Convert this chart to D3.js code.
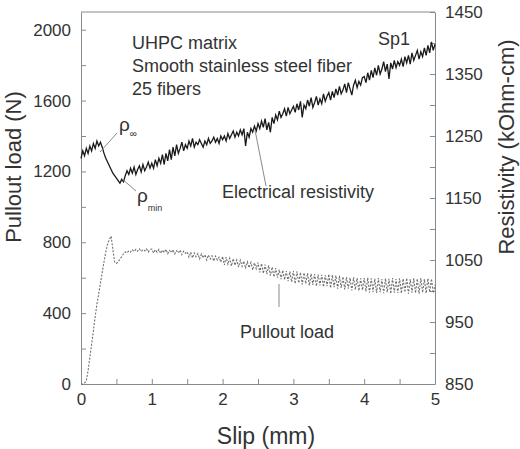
<!DOCTYPE html>
<html>
<head>
<meta charset="utf-8">
<script src="https://cdn.jsdelivr.net/npm/d3@7"></script>
<style>
  body { margin: 0; background: #fff; }
  svg text { font-family: "Liberation Sans", Arial, sans-serif; fill: #333; }
</style>
</head>
<body>
<svg id="chart" width="520" height="449"></svg>
<script>
// slip positions (mm), shared by both traces
const slipPts = [
  0,0.025,0.05,0.075,0.1,0.125,0.15,0.175,0.2,0.225,0.25,0.275,0.3,0.325,0.35,0.375,0.4,0.425,0.45,0.475,
  0.5,0.525,0.55,0.575,0.6,0.625,0.65,0.675,0.7,0.725,0.75,0.775,0.8,0.825,0.85,0.875,0.9,0.925,0.95,0.975,
  1,1.025,1.05,1.075,1.1,1.125,1.15,1.175,1.2,1.225,1.25,1.275,1.3,1.325,1.35,1.375,1.4,1.425,1.45,1.475,
  1.5,1.525,1.55,1.575,1.6,1.625,1.65,1.675,1.7,1.725,1.75,1.775,1.8,1.825,1.85,1.875,1.9,1.925,1.95,1.975,
  2,2.025,2.05,2.075,2.1,2.125,2.15,2.175,2.2,2.225,2.25,2.275,2.3,2.325,2.35,2.375,2.4,2.425,2.45,2.475,
  2.5,2.525,2.55,2.575,2.6,2.625,2.65,2.675,2.7,2.725,2.75,2.775,2.8,2.825,2.85,2.875,2.9,2.925,2.95,2.975,
  3,3.025,3.05,3.075,3.1,3.125,3.15,3.175,3.2,3.225,3.25,3.275,3.3,3.325,3.35,3.375,3.4,3.425,3.45,3.475,
  3.5,3.525,3.55,3.575,3.6,3.625,3.65,3.675,3.7,3.725,3.75,3.775,3.8,3.825,3.85,3.875,3.9,3.925,3.95,3.975,
  4,4.025,4.05,4.075,4.1,4.125,4.15,4.175,4.2,4.225,4.25,4.275,4.3,4.325,4.35,4.375,4.4,4.425,4.45,4.475,
  4.5,4.525,4.55,4.575,4.6,4.625,4.65,4.675,4.7,4.725,4.75,4.775,4.8,4.825,4.85,4.875,4.9,4.925,4.95,4.975,
  5
]

// electrical resistivity (kOhm-cm), right axis
const resistivity = [
  1214,1226,1218,1230,1222,1234,1226,1238,1230,1242,1234,1240,1232,1222,1214,1208,1202,1196,1190,1186,
  1182,1178,1174,1180,1176,1186,1194,1188,1198,1190,1200,1188,1196,1202,1192,1204,1194,1200,1208,1198,
  1206,1198,1212,1202,1214,1206,1220,1204,1222,1210,1228,1212,1232,1218,1236,1222,1230,1240,1226,1236,
  1230,1242,1234,1246,1232,1240,1236,1244,1238,1232,1242,1236,1246,1238,1242,1248,1240,1246,1238,1250,
  1244,1250,1242,1254,1246,1252,1258,1248,1256,1250,1260,1252,1262,1234,1256,1248,1262,1256,1266,1258,
  1270,1262,1274,1264,1278,1260,1272,1256,1280,1270,1284,1276,1290,1280,1286,1294,1282,1296,1286,1292,
  1298,1288,1302,1292,1306,1280,1300,1294,1308,1298,1312,1296,1304,1314,1300,1310,1302,1318,1306,1314,
  1320,1308,1322,1312,1326,1316,1330,1318,1324,1334,1320,1336,1326,1316,1332,1340,1328,1338,1332,1344,
  1346,1336,1352,1340,1356,1344,1360,1348,1364,1350,1358,1370,1354,1366,1342,1368,1358,1372,1360,1370,
  1364,1374,1362,1378,1368,1380,1366,1384,1372,1380,1388,1374,1386,1378,1392,1380,1396,1384,1402,1388,
  1398
]

// pullout load (N), left axis
const pullout = [
  0,0,5,20,75,150,225,300,380,450,510,570,630,690,745,790,815,835,760,690,
  680,690,705,720,735,745,740,752,745,758,748,760,750,762,748,758,752,764,746,760,
  762,740,758,744,760,738,756,742,760,736,754,742,758,734,752,740,756,730,750,738,
  746,716,744,712,740,718,736,706,734,712,730,700,728,706,724,694,722,700,716,688,
  720,672,716,676,710,666,708,670,700,660,698,664,694,652,690,656,686,644,684,650,
  686,630,680,624,674,620,668,612,660,604,654,600,646,592,642,588,638,580,634,576,
  638,566,636,570,630,562,628,566,626,556,622,560,620,552,618,556,616,548,614,552,
  620,542,616,546,612,538,610,542,606,534,604,538,600,528,602,532,598,526,596,530,
  598,522,600,516,596,520,594,514,598,518,592,512,596,518,594,510,598,516,592,514,
  596,512,594,518,598,510,592,516,596,514,594,510,598,516,592,512,596,518,594,514,
  560
]

const loadTicks = [0,200,400,600,800,1000,1200,1400,1600,1800,2000]
const resTicks = [850,900,950,1000,1050,1100,1150,1200,1250,1300,1350,1400,1450]
const slipTicks = [0,0.5,1,1.5,2,2.5,3,3.5,4,4.5,5]

const notes = ['UHPC matrix', 'Smooth stainless steel fiber', '25 fibers']

const svg = d3.select('#chart')

const x = d3.scaleLinear().domain([0,5]).range([81,435])
const yL = d3.scaleLinear().domain([0,2100]).range([384,12])
const yR = d3.scaleLinear().domain([850,1450]).range([384,12])

const axisColor = '#8a8a8a'

// frame top
svg.append('line')
  .attr('x1', x(0)).attr('x2', x(5))
  .attr('y1', yL(2100)).attr('y2', yL(2100))
  .attr('stroke', axisColor)

const gx = svg.append('g')
  .attr('transform', `translate(0,${yL(0)})`)
  .call(d3.axisBottom(x).tickValues(slipTicks).tickSize(-5).tickSizeOuter(0).tickPadding(9)
    .tickFormat(d => Number.isInteger(d) ? d : ''))

const gl = svg.append('g')
  .attr('transform', `translate(${x(0)},0)`)
  .call(d3.axisLeft(yL).tickValues(loadTicks).tickSize(-5).tickSizeOuter(0).tickPadding(10)
    .tickFormat(d => d % 400 === 0 ? d : ''))

const gr = svg.append('g')
  .attr('transform', `translate(${x(5)},0)`)
  .call(d3.axisRight(yR).tickValues(resTicks).tickSize(-5).tickSizeOuter(0).tickPadding(10)
    .tickFormat(d => (d - 850) % 100 === 0 ? d : ''))

;[gx, gl, gr].forEach(g => {
  g.select('.domain').attr('stroke', axisColor)
  g.selectAll('.tick line').attr('stroke', axisColor)
  g.selectAll('.tick text')
    .style('font-family', '"Liberation Sans", Arial, sans-serif')
    .style('font-size', '17px')
    .attr('fill', '#333')
})

// pullout load trace
const loadLine = d3.line()
  .x((d, i) => x(slipPts[i]))
  .y(d => yL(d))

svg.append('path')
  .datum(pullout)
  .attr('d', loadLine)
  .attr('fill', 'none')
  .attr('stroke', '#6e6e6e')
  .attr('stroke-width', 1.1)
  .attr('stroke-dasharray', '2,1.5')

// resistivity trace
const resLine = d3.line()
  .x((d, i) => x(slipPts[i]))
  .y(d => yR(d))

svg.append('path')
  .datum(resistivity)
  .attr('d', resLine)
  .attr('fill', 'none')
  .attr('stroke', '#1a1a1a')
  .attr('stroke-width', 1.3)

// axis titles
svg.append('text')
  .attr('transform', 'translate(21,167) rotate(-90)')
  .attr('text-anchor', 'middle')
  .style('font-size', '22px')
  .text('Pullout load (N)')

svg.append('text')
  .attr('transform', 'translate(514,147) rotate(-90)')
  .attr('text-anchor', 'middle')
  .style('font-size', '22px')
  .text('Resistivity (kOhm-cm)')

svg.append('text')
  .attr('x', 266).attr('y', 444)
  .attr('text-anchor', 'middle')
  .style('font-size', '23px')
  .text('Slip (mm)')

// annotations
svg.append('g').selectAll('text')
  .data(notes)
  .join('text')
  .attr('x', 132)
  .attr('y', (d, i) => 49 + i * 23)
  .style('font-size', '18px')
  .text(d => d)

svg.append('text').attr('x', 378).attr('y', 45).style('font-size', '18px').text('Sp1')
svg.append('text').attr('x', 222).attr('y', 198).style('font-size', '18px').text('Electrical resistivity')
svg.append('text').attr('x', 240).attr('y', 338).style('font-size', '18px').text('Pullout load')

const rho1 = svg.append('text').attr('x', 119).attr('y', 131).style('font-size', '19px')
rho1.append('tspan').text('ρ')
rho1.append('tspan').attr('dy', 6).style('font-size', '10px').text('∞')

const rho2 = svg.append('text').attr('x', 137).attr('y', 202).style('font-size', '19px')
rho2.append('tspan').text('ρ')
rho2.append('tspan').attr('dy', 9).style('font-size', '9px').text('min')

// leader lines
const leaders = [
  [117, 133, 100, 152],
  [121, 178, 136, 191],
  [255, 130, 266, 186],
  [279, 284, 279, 307]
]
svg.append('g').selectAll('line')
  .data(leaders)
  .join('line')
  .attr('x1', d => d[0]).attr('y1', d => d[1])
  .attr('x2', d => d[2]).attr('y2', d => d[3])
  .attr('stroke', '#8a8a8a')
  .attr('stroke-width', 1)
</script>
</body>
</html>
